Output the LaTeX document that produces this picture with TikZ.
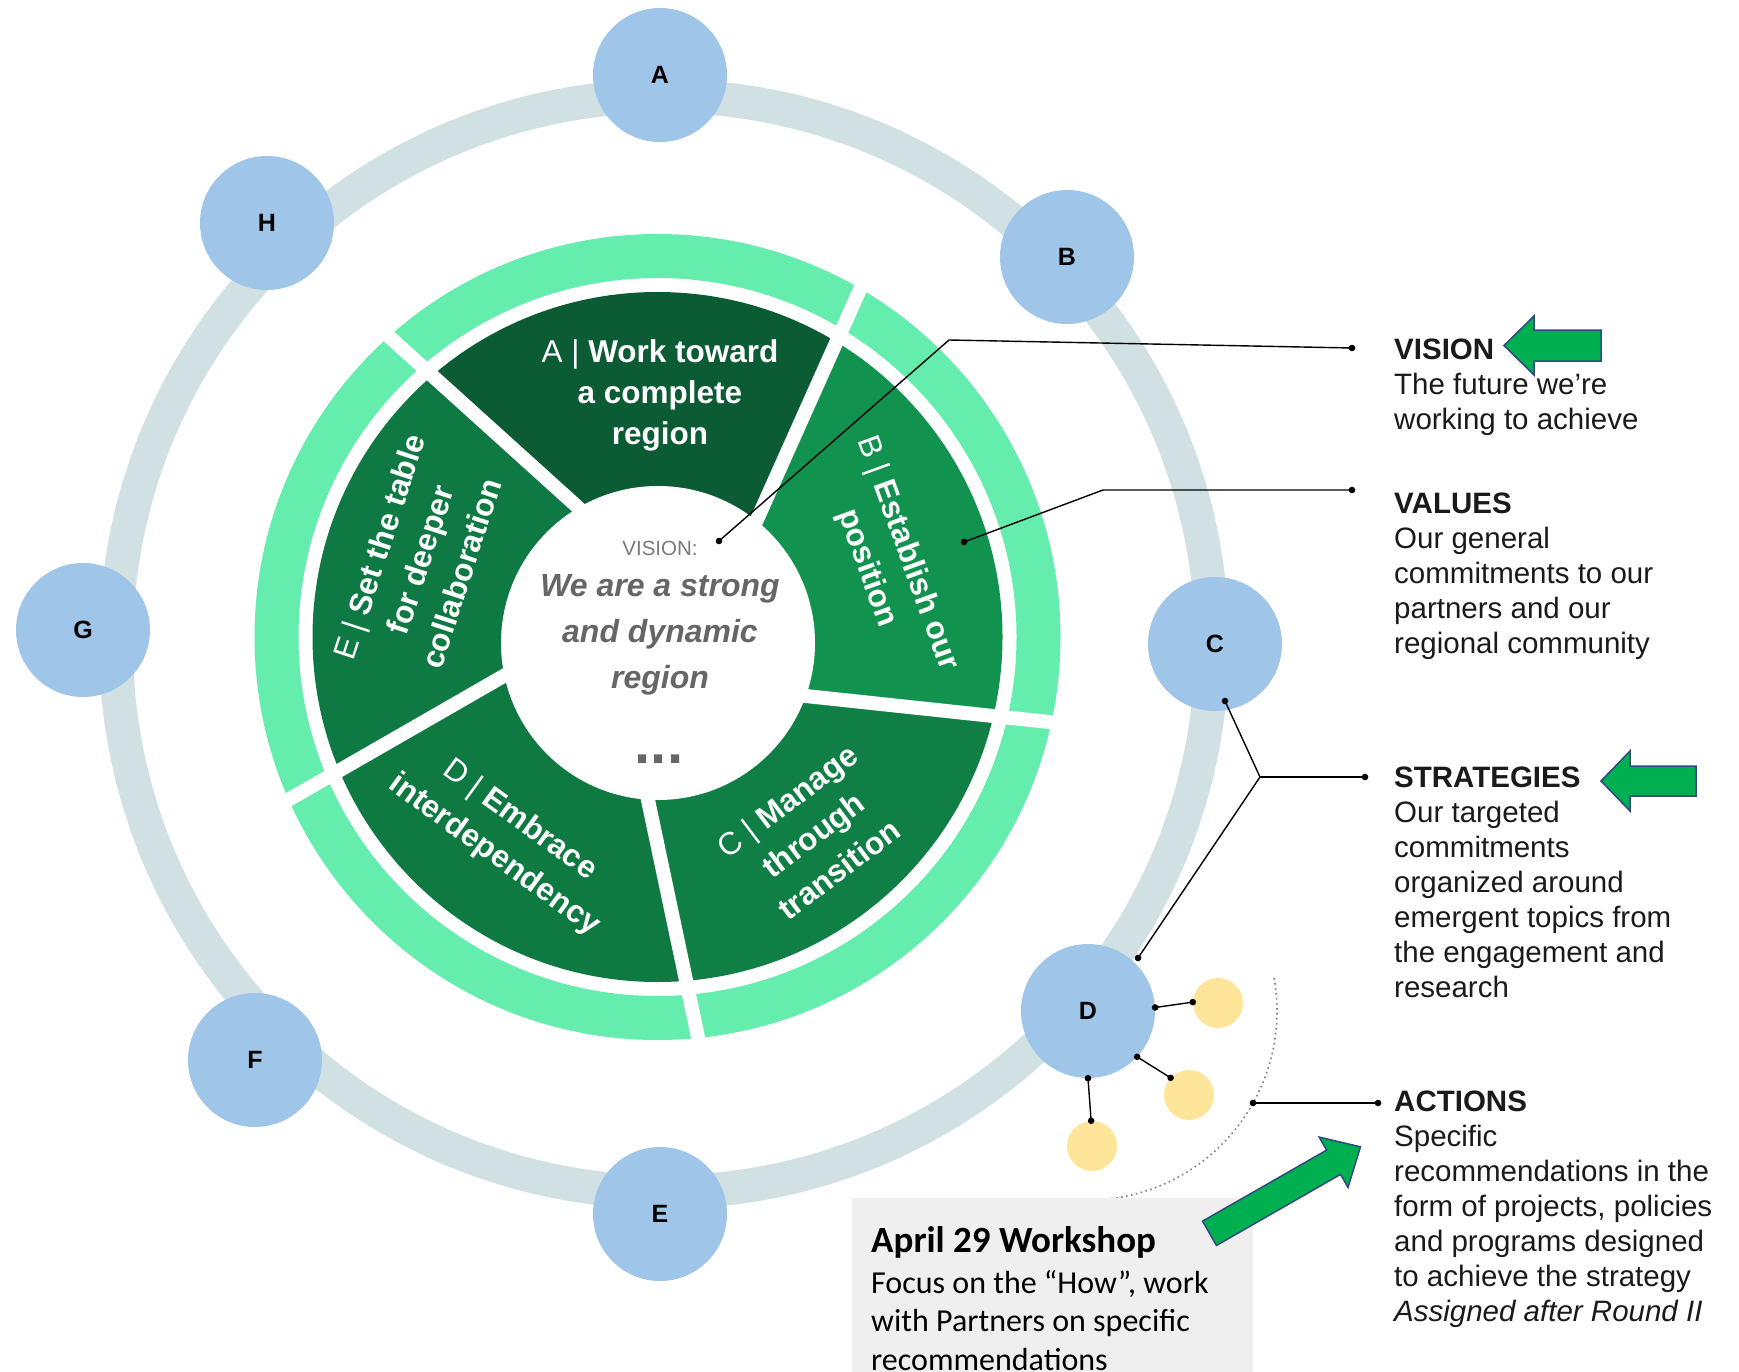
\documentclass[tikz,border=0pt]{standalone}
\usepackage{fontspec}
\setmainfont{Liberation Sans}
\newfontfamily\calib{Carlito}
\usetikzlibrary{calc}
\definecolor{ringc}{HTML}{D0E0E3}
\definecolor{bubc}{HTML}{9FC5E8}
\definecolor{lightg}{HTML}{65EDAD}
\definecolor{secA}{HTML}{0B5C34}
\definecolor{secB}{HTML}{12924F}
\definecolor{secC}{HTML}{0F7F45}
\definecolor{secD}{HTML}{0E7A42}
\definecolor{secE}{HTML}{0F7943}
\definecolor{yel}{HTML}{FFE599}
\definecolor{agreen}{HTML}{00B050}
\definecolor{aedge}{HTML}{2F4A7F}
\definecolor{boxg}{HTML}{EFEFEF}
\definecolor{vgrey}{HTML}{666666}
\definecolor{lgrey}{HTML}{7A7A7A}
\definecolor{txt}{HTML}{1A1A1A}
\begin{document}
\begin{tikzpicture}[x=1pt, y=-1pt,
  bub/.style={circle, fill=bubc, minimum size=134pt, inner sep=0pt, font=\fontsize{25}{25}\selectfont\bfseries, text=black},
  ybub/.style={circle, fill=yel, minimum size=50pt, inner sep=0pt},
  conn/.style={draw=black, line width=1.4pt},
  sectext/.style={text=white, align=center, inner sep=0pt, font=\fontsize{31.5}{43}\selectfont\bfseries},
  rtext/.style={anchor=north west, align=left, inner sep=0pt, text=txt, font=\fontsize{29.5}{35}\selectfont},
  garrow/.style={fill=agreen, draw=aedge, line width=1.5pt, line join=miter},
  gapline/.style={draw=white, line width=14pt},
]
\useasboundingbox (0,0) rectangle (1739,1372);

% outer ring
\draw[ringc, line width=34pt] (664,644) circle[radius=548pt];

% wheel
\begin{scope}[shift={(657.5,637)}, y=1pt]
  \fill[lightg, even odd rule] (0,0) circle[radius=403] (0,0) circle[radius=359];
  \foreach \k in {0,...,5}{
    \begin{scope}[rotate=56+72*\k]
      \coordinate (gi\k) at (112,-24);
      \coordinate (go\k) at (427,31);
    \end{scope}
  }
  \begin{scope}
    \clip (0,0) circle[radius=345];
    \fill[secA] (0,0) -- (gi0) -- (go0) -- (92:700) -- (go1) -- (gi1) -- cycle;
    \fill[secE] (0,0) -- (gi1) -- (go1) -- (164:700) -- (go2) -- (gi2) -- cycle;
    \fill[secD] (0,0) -- (gi2) -- (go2) -- (236:700) -- (go3) -- (gi3) -- cycle;
    \fill[secC] (0,0) -- (gi3) -- (go3) -- (308:700) -- (go4) -- (gi4) -- cycle;
    \fill[secB] (0,0) -- (gi4) -- (go4) -- (380:700) -- (go5) -- (gi5) -- cycle;
  \end{scope}
  \foreach \k in {0,...,4} \draw[gapline] (gi\k) -- (go\k);
  \fill[white] (0.5,-6) circle[radius=157];
\end{scope}

% sector labels
\node[sectext, font=\fontsize{31.5}{41}\selectfont\bfseries] (tA) at (660,395) {{\mdseries A |} Work toward\\a complete\\region};
\node[sectext, rotate=-70] (tB) at (887,561) {{\mdseries B |} Establish our\\position};
\node[sectext, rotate=37] (tC) at (813,835) {{\mdseries C |} Manage\\through\\transition};
\node[sectext, rotate=-36] (tD) at (507,838) {{\mdseries D |} Embrace\\interdependency};
\node[sectext, rotate=72] (tE) at (420,560) {{\mdseries E |} Set the table\\for deeper\\collaboration};

% centre
\node[text=lgrey, inner sep=0pt, font=\fontsize{20.5}{20.5}\selectfont] (vlab) at (660,548) {VISION:};
\node[text=vgrey, align=center, inner sep=0pt, anchor=north, font=\fontsize{32}{46}\selectfont\bfseries\itshape] (vtext) at (660,574) {We are a strong\\and dynamic\\region};
\node[text=vgrey, inner sep=0pt, anchor=base, font=\fontsize{58}{58}\selectfont\bfseries] (dots) at (659,763) {...};

% bubbles
\node[bub] (A) at (660,75) {A};
\node[bub] (B) at (1067,257) {B};
\node[bub] (C) at (1215,644) {C};
\node[bub] (D) at (1088,1011) {D};
\node[bub] (E) at (660,1214) {E};
\node[bub] (F) at (255,1060) {F};
\node[bub] (G) at (83,630) {G};
\node[bub] (H) at (267,223) {H};

\node[ybub] (Y1) at (1218,1003) {};
\node[ybub] (Y2) at (1189,1095) {};
\node[ybub] (Y3) at (1092,1146) {};

% dotted arc
\begin{scope}[shift={(D.center)}, y=1pt]
  \draw[draw=gray, line width=1.6pt, dash pattern=on 1.6pt off 3.4pt] (10:189) arc[start angle=10, end angle=-88, radius=189];
\end{scope}

% connectors
\coordinate (visdot) at (719,541);
\coordinate (visbend) at (949,340);
\coordinate (visend) at (1352,348);
\coordinate (valdot) at (964,542);
\coordinate (valbend) at (1103,490);
\coordinate (valend) at (1352,490);
\coordinate (cdot) at (1225,701);
\coordinate (ddot) at (1138,958);
\coordinate (strbend) at (1260,777);
\coordinate (strend) at (1365,777);
\coordinate (actdot) at (1253,1103);
\coordinate (actend) at (1378,1103);

\draw[conn] (visdot) -- (visbend) -- (visend);
\draw[conn] (valdot) -- (valbend) -- (valend);
\draw[conn] (cdot) -- (strbend) -- (ddot);
\draw[conn] (strbend) -- (strend);
\draw[conn] (actdot) -- (actend);
\draw[conn] (D.3) -- (Y1.178);
\draw[conn] (D.-43) -- (Y2.137);
\draw[conn] (D.-90) -- (Y3.92);
\foreach \p in {visdot, visend, valdot, valend, cdot, ddot, strend, actdot, actend, D.3, Y1.178, D.-43, Y2.137, D.-90, Y3.92}
  \fill (\p) circle[radius=3.3pt];

% workshop box
\fill[boxg] (852,1198) rectangle (1253,1380);
\node[anchor=base west, inner sep=0pt, text=black, font=\calib\fontsize{37}{37}\selectfont\bfseries] (wsh) at (871,1252) {April 29 Workshop};
\node[anchor=north west, inner sep=0pt, align=left, text=black, font=\calib\fontsize{32}{38.5}\selectfont] (wsb) at (871,1270) {Focus on the “How”, work\\with Partners on specific\\recommendations};

% green arrows
\begin{scope}[shift={(1601,345.5)}, rotate=180]
  \draw[garrow] (0,-15.5) -- (67,-15.5) -- (67,-29.5) -- (97,0) -- (67,29.5) -- (67,15.5) -- (0,15.5) -- cycle;
\end{scope}
\begin{scope}[shift={(1696,781)}, rotate=180]
  \draw[garrow] (0,-15) -- (66,-15) -- (66,-30) -- (95,0) -- (66,30) -- (66,15) -- (0,15) -- cycle;
\end{scope}
\begin{scope}[shift={(1209.5,1233.3)}, rotate=29.8]
  \draw[garrow] (0,-14) -- (143,-14) -- (143,-29) -- (174,0) -- (143,29) -- (143,14) -- (0,14) -- cycle;
\end{scope}

% right texts
\node[rtext] (tvis) at (1394,339) {\textbf{VISION}\\The future we’re\\working to achieve};
\node[rtext] (tval) at (1394,493) {\textbf{VALUES}\\Our general\\commitments to our\\partners and our\\regional community};
\node[rtext] (tstr) at (1394,767) {\textbf{STRATEGIES}\\Our targeted\\commitments\\organized around\\emergent topics from\\the engagement and\\research};
\node[rtext] (tact) at (1394,1091) {\textbf{ACTIONS}\\Specific\\recommendations in the\\form of projects, policies\\and programs designed\\to achieve the strategy\\\textit{Assigned after Round II}};
\end{tikzpicture}
\end{document}
